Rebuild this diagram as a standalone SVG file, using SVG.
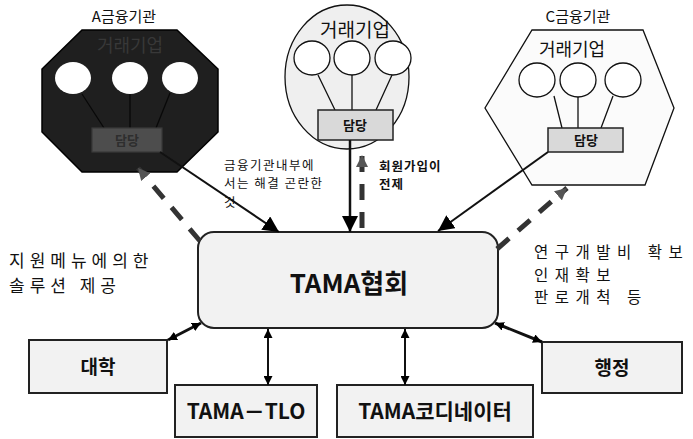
<svg xmlns="http://www.w3.org/2000/svg" width="693" height="439" viewBox="0 0 693 439">
<style>
text{font-family:"Noto Sans CJK KR","Noto Sans",sans-serif;fill:#111}
.lbl{font-size:15px;text-anchor:middle}
.grp{font-size:18px;text-anchor:middle}
.b{font-weight:bold}
.box{fill:#f2f2f2;stroke:#222;stroke-width:2}
.inbox{fill:#d9d9d9;stroke:#222;stroke-width:1.5}
.ln{stroke:#111;stroke-width:1.3;fill:none}
.side{font-size:17px;letter-spacing:5px}
.rside{font-size:15.5px;letter-spacing:6.5px}
.note{font-size:12.5px;letter-spacing:1.5px}
.conn{stroke:#111;fill:none}
.dash{stroke:#333;stroke-width:5;stroke-dasharray:16 12;fill:none}
</style>
<defs>
<marker id="big" viewBox="0 0 10 10" refX="10" refY="5" markerWidth="16" markerHeight="16" orient="auto" markerUnits="userSpaceOnUse"><path d="M0,0 L10,5 L0,10 z" fill="#000"/></marker>
<marker id="gray" viewBox="0 0 10 10" refX="10" refY="5" markerWidth="12" markerHeight="12" orient="auto" markerUnits="userSpaceOnUse"><path d="M0,0 L10,5 L0,10 z" fill="#555"/></marker>
<marker id="sm" viewBox="0 0 10 10" refX="10" refY="5" markerWidth="9" markerHeight="9" orient="auto-start-reverse" markerUnits="userSpaceOnUse"><path d="M0,0 L10,5 L0,10 z" fill="#000"/></marker>
</defs>

<g id="nodeA">
<text class="lbl" x="124" y="22">A금융기관</text>
<polygon points="82,30 177,30 218,69 218,132 177,172 82,172 42,132 42,69" fill="#1f1f1f" stroke="#000" stroke-width="1.5"/>
<text class="grp" x="130" y="52" style="fill:#383838">거래기업</text>
<ellipse cx="73" cy="78" rx="18" ry="16" fill="#fff"/>
<ellipse cx="130" cy="78" rx="18" ry="16" fill="#fff"/>
<ellipse cx="180" cy="78" rx="18" ry="16" fill="#fff"/>
<path d="M82,94 L104,128 M130,94 L130,128 M170,93 L156,128" stroke="#080808" stroke-width="1.3"/>
<rect x="92" y="128" width="70" height="24" fill="#4d4d4d" stroke="#3a3a3a" stroke-width="1.2"/>
<text x="127" y="145" text-anchor="middle" font-size="13" class="b" style="fill:#2e2e2e">담당</text>
</g>

<g id="nodeB">
<ellipse cx="347" cy="77" rx="62" ry="72" fill="#efefef" stroke="#111" stroke-width="1.3"/>
<text class="grp" x="355" y="37" style="font-size:19px">거래기업</text>
<ellipse cx="312" cy="58" rx="18" ry="17" fill="#fff" stroke="#111" stroke-width="1.3"/>
<ellipse cx="352" cy="58" rx="18" ry="17" fill="#fff" stroke="#111" stroke-width="1.3"/>
<ellipse cx="393" cy="58" rx="18" ry="17" fill="#fff" stroke="#111" stroke-width="1.3"/>
<path class="ln" d="M318,75 L335,110 M352,75 L352,110 M392,75 L376,110"/>
<rect class="inbox" x="318" y="110" width="75" height="30"/>
<text x="355" y="130" text-anchor="middle" font-size="13" class="b">담당</text>
</g>

<g id="nodeC">
<text class="lbl" x="578" y="22">C금융기관</text>
<polygon points="532,30 643,30 674,108 645,185 532,185 485,108" fill="#fbfbfb" stroke="#111" stroke-width="1.3"/>
<text class="grp" x="572" y="56">거래기업</text>
<ellipse cx="537" cy="80" rx="18" ry="17" fill="#fff" stroke="#111" stroke-width="1.3"/>
<ellipse cx="578" cy="80" rx="18" ry="17" fill="#fff" stroke="#111" stroke-width="1.3"/>
<ellipse cx="623" cy="80" rx="18" ry="17" fill="#fff" stroke="#111" stroke-width="1.3"/>
<path class="ln" d="M554,96 L562,128 M578,97 L578,128 M613,96 L601,128"/>
<rect class="inbox" x="548" y="128" width="75" height="24"/>
<text x="586" y="145" text-anchor="middle" font-size="13" class="b">담당</text>
</g>

<g id="tama">
<rect class="box" x="198" y="232" width="300" height="96" rx="16" ry="16"/>
<text x="349" y="293" text-anchor="middle" font-size="26" class="b">TAMA협회</text>
</g>

<g id="univ">
<rect class="box" x="29" y="340" width="138" height="53"/>
<text x="98" y="374" text-anchor="middle" font-size="19" class="b">대학</text>
</g>
<g id="tlo">
<rect class="box" x="175" y="385" width="142" height="52"/>
<text x="246" y="419" text-anchor="middle" font-size="21" class="b">TAMA－TLO</text>
</g>
<g id="coord">
<rect class="box" x="337" y="385" width="196" height="52"/>
<text x="435" y="419" text-anchor="middle" font-size="21" class="b">TAMA코디네이터</text>
</g>
<g id="admin">
<rect class="box" x="542" y="342" width="140" height="51"/>
<text x="612" y="375" text-anchor="middle" font-size="19" class="b">행정</text>
</g>

<g id="connectors">
<line class="conn" x1="160" y1="152" x2="279" y2="232" stroke-width="2" marker-end="url(#big)"/>
<line class="conn" x1="350" y1="140" x2="350" y2="232" stroke-width="2.5" marker-end="url(#big)"/>
<line class="conn" x1="548" y1="152" x2="438" y2="231" stroke-width="2" marker-end="url(#big)"/>
<line class="dash" x1="200" y1="241" x2="138" y2="168" marker-end="url(#gray)"/>
<line class="dash" x1="362" y1="228" x2="362" y2="155" marker-end="url(#gray)" stroke-width="4"/>
<line class="dash" x1="497" y1="249" x2="567" y2="188" marker-end="url(#gray)"/>
<line class="conn" x1="201" y1="323" x2="168" y2="340" stroke-width="3" marker-start="url(#sm)" marker-end="url(#sm)"/>
<line class="conn" x1="268" y1="329" x2="268" y2="385" stroke-width="2" marker-start="url(#sm)" marker-end="url(#sm)"/>
<line class="conn" x1="405" y1="329" x2="405" y2="385" stroke-width="2" marker-start="url(#sm)" marker-end="url(#sm)"/>
<line class="conn" x1="495" y1="323" x2="542" y2="342" stroke-width="3" marker-start="url(#sm)" marker-end="url(#sm)"/>
</g>

<g id="labels">
<text class="note" x="224" y="170">금융기관내부에</text>
<text class="note" x="224" y="188.3">서는 해결 곤란한</text>
<text class="note" x="224" y="206.6">것</text>
<text class="note b" x="379" y="171" style="letter-spacing:1px">회원가입이</text>
<text class="note b" x="379" y="189.3" style="letter-spacing:1px">전제</text>
<text class="side" x="9" y="267">지원메뉴에의한</text>
<text class="side" x="9" y="292">솔루션 제공</text>
<text class="rside" x="534" y="258">연구개발비 확보</text>
<text class="rside" x="534" y="280.5">인재확보</text>
<text class="rside" x="534" y="303">판로개척 등</text>
</g>
</svg>
